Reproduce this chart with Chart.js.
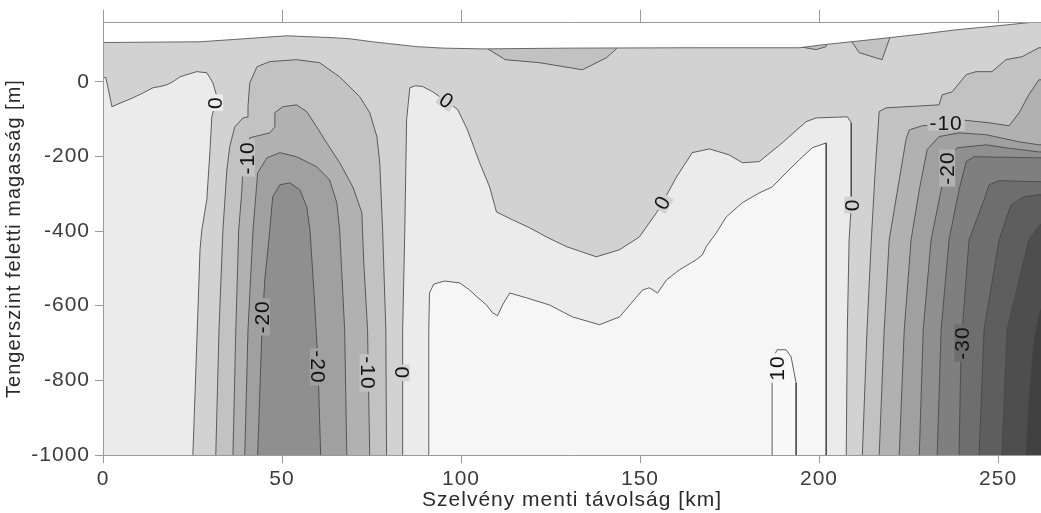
<!DOCTYPE html>
<html>
<head>
<meta charset="utf-8">
<script src="https://cdn.jsdelivr.net/npm/chart.js@4.4.1/dist/chart.umd.min.js"></script>
<style>
  html, body { margin: 0; padding: 0; background: #ffffff; }
  #wrap { position: relative; width: 1041px; height: 513px; }
</style>
</head>
<body>
<div id="wrap"><canvas id="section"></canvas></div>
<script>
// Axis ranges and ticks
const X_MIN = 0, X_MAX = 262;
const Y_MIN = -1000, Y_MAX = 160;
const xTicks = [0, 50, 100, 150, 200, 250];
const yTicks = [0, -200, -400, -600, -800, -1000];

// Contour traces, [km, m]
const topography = [[-5, 105], [0, 105], [13, 106], [27, 107], [36.3, 113], [51.3, 123], [64.2, 118], [69, 115],
  [75.3, 107], [80, 102], [87.6, 94], [95, 90], [106, 88], [130, 90], [163.8, 91], [194.5, 91], [201, 99],
  [210, 108], [219.6, 118], [228, 127], [238.3, 139], [250, 150], [261.4, 161], [270, 166]];

const westZero = [[0.8, 11], [2.5, -67], [5.6, -54], [8.4, -43], [11.2, -30], [14, -16], [15.9, -13], [17.9, -8],
  [19.5, 0], [21.5, 13], [23.4, 19], [26.2, 27], [29, 24], [30.7, -3], [31.8, -40], [31.3, -60], [30.4, -94],
  [29.9, -182], [29, -316], [27.6, -397], [27.1, -450], [26.2, -700], [25.1, -1000]];

const westMinus5 = [[31.5, -1000], [32.4, -665], [33.5, -397], [34.6, -236], [35.4, -174], [36.8, -121], [39.1, -97],
  [40.5, -94], [40.5, -67], [41, -3], [43, 40], [46.6, 54], [54.1, 59], [60.5, 51], [66.1, 13], [71.7, -40],
  [74.5, -83], [76.5, -147], [77.3, -217], [78.1, -397], [79, -665], [79.2, -1000]];
const westMinus10 = [[36.3, -1000], [37.1, -665], [37.9, -397], [38.8, -290], [39.1, -217], [41, -150], [46.6, -137],
  [48, -121], [48, -83], [50.2, -67], [54.1, -62], [56.9, -80], [59.7, -121], [62.5, -164], [66.1, -217],
  [69.8, -282], [72.3, -351], [72.8, -477], [73.9, -665], [74.5, -1000]];
const westMinus15 = [[39.6, -1000], [40.5, -665], [41.9, -397], [43.2, -244], [45.8, -204], [49.4, -190], [54.1, -201],
  [59.7, -228], [63.3, -263], [65.3, -324], [66.1, -397], [67.5, -665], [68.1, -1000]];
const westMinus20 = [[43.2, -1000], [44.4, -665], [45.2, -531], [46.6, -397], [47.4, -308], [49.4, -276], [52.2, -271],
  [55, -290], [56.9, -335], [57.8, -397], [58.9, -558], [60, -745], [60.8, -1000]];

const midZero = [[83.7, -1000], [83.7, -665], [84.3, -397], [84.8, -102], [85.7, -16], [87.3, -11], [89.3, -13],
  [92.1, -27], [94, -40], [96, -51], [99.1, -75], [101.8, -129], [105.2, -217], [108, -282], [109.9, -349],
  [114.4, -370], [119.1, -391], [123.9, -416], [129.5, -442], [137.8, -469], [144.3, -450], [149.8, -416],
  [154.6, -351], [156.3, -324], [160.2, -255], [164.6, -190], [169.4, -180], [174.9, -196], [178.6, -217],
  [183.3, -214], [189.7, -164], [196.4, -107], [199.2, -97], [207.9, -94], [209, -110], [209, -330],
  [208.4, -424], [207.9, -665], [207.6, -1000]];
const midPlus5 = [[91, -1000], [91, -665], [91.2, -566], [92.4, -542], [95.4, -534], [99.6, -539], [102.4, -558],
  [104.4, -576], [107.1, -598], [108.8, -619], [110.2, -627], [111.6, -598], [113.6, -566], [118.3, -579],
  [124.7, -598], [131.1, -630], [138.7, -651], [144.3, -630], [150.7, -558], [152.6, -552], [154.9, -566],
  [157.4, -531], [161, -504], [165.7, -477], [167.4, -464], [168.5, -442], [171.3, -405], [174.1, -362],
  [178.6, -324], [183.3, -298], [186.9, -282], [190.8, -244], [194.5, -209], [198.1, -177], [202, -164],
  [202, -1000]];
const midPlus10 = [[186.9, -1000], [186.9, -745], [188.3, -718], [190.8, -718], [192.2, -737], [193.6, -807],
  [193.6, -1000]];

const eastMinus5 = [[212.1, -1000], [213.4, -665], [214.6, -424], [215.7, -236], [216.8, -80], [218.7, -70],
  [233.5, -62], [234.4, -35], [237.2, -27], [241.1, 19], [243.9, 27], [248.3, 27], [252.2, 59], [256.7, 67],
  [261.4, 91]];
const eastMinus10 = [[216.8, -1000], [218.2, -665], [219.6, -424], [222.4, -263], [224.3, -155], [225.2, -129],
  [228.8, -118], [233, -115], [239.5, -102], [247.5, -110], [253.1, -118], [255.9, -83], [258.6, -35], [261.4, 5]];
const eastMinus15 = [[222.4, -1000], [223.8, -665], [225.7, -424], [228, -290], [230.2, -182], [233.5, -147],
  [239.1, -137], [246.7, -142], [255.9, -161], [261.4, -169]];
const eastMinus20 = [[228, -1000], [229.1, -665], [231.3, -424], [234.1, -290], [236.3, -204], [238.6, -177],
  [246.7, -169], [252.2, -177], [261.4, -188]];
const eastMinus25 = [[233, -1000], [234.1, -665], [236.3, -424], [239.1, -290], [241.1, -214], [243.3, -201],
  [261.4, -204]];
const eastMinus30 = [[239.1, -1000], [239.7, -700], [241.9, -424], [246.1, -316], [247.5, -276], [250.3, -265],
  [261.4, -268]];
const eastMinus35 = [[244.7, -1000], [246.1, -665], [250.3, -424], [253.6, -330], [257.3, -308], [261.4, -303]];
const eastMinus40 = [[251.1, -1000], [252.5, -665], [255.9, -531], [258.6, -424], [261.7, -383]];
const eastMinus45 = [[257.8, -1000], [258.6, -853], [260, -692], [261.7, -611]];

// small -5 pockets under the surface
const pocketA = [[106.5, 130], [107.5, 88], [112.4, 59], [121.9, 51], [133.9, 32], [140.6, 64], [143.4, 88], [144, 130]];
const pocketB = [[194, 130], [194.5, 94], [199.2, 86], [202, 94], [202.5, 130]];
const pocketC = [[209, 130], [209.3, 105], [211.2, 78], [217.6, 59], [219.6, 113], [220, 130]];

// Contour value labels
const labelText = ['0', '-10', '0', '0', '0', '-10', '-20', '-20', '-20', '-10', '0', '10', '-30'];
const labelKm = [31.3, 40.2, 96, 156.3, 209.3, 235.5, 235.8, 44.4, 60, 73.9, 83.4, 188.3, 240];
const labelM = [-56, -204, -51, -324, -330, -110, -231, -630, -764, -780, -780, -767, -700];
const labelAngle = [-90, -90, 35, -60, -90, 0, -90, -90, 90, 90, 90, -90, -90];
const labelBand = ['p1', 'n2', 'n1', 'n1', 'n1', 'n2', 'n3', 'n4', 'n4', 'n2', 'n1', 'p2', 'n7'];

// grey shading per band, lightest for positive values
const bandColors = {
  p3: '#f9f9f9', p2: '#f6f6f6', p1: '#ebebeb',
  n1: '#d2d2d2', n2: '#c2c2c2', n3: '#b1b1b1', n4: '#a0a0a0', n5: '#8f8f8f',
  n6: '#7f7f7f', n7: '#6e6e6e', n8: '#5e5e5e', n9: '#4e4e4e', n10: '#404040'
};
const LINE_COLOR = 'rgba(70, 70, 70, 0.85)';
const FONT = '"Liberation Sans", Arial, Helvetica, sans-serif';

// closing points sit outside the visible area and get clipped
const OUT_LEFT = -5, OUT_RIGHT = 270, OUT_BOTTOM = -1100, OUT_TOP = 300;

function arch(trace) {
  const first = trace[0], last = trace[trace.length - 1];
  return [...trace, [last[0], OUT_BOTTOM], [first[0], OUT_BOTTOM], first];
}
function westSide(trace) {
  const first = trace[0], last = trace[trace.length - 1];
  return [[OUT_LEFT, first[1]], ...trace, [last[0], OUT_BOTTOM], [OUT_LEFT, OUT_BOTTOM], [OUT_LEFT, first[1]]];
}
function eastSide(trace) {
  const first = trace[0], last = trace[trace.length - 1];
  return [[first[0], OUT_BOTTOM], ...trace, [OUT_RIGHT, last[1]], [OUT_RIGHT, OUT_BOTTOM], [first[0], OUT_BOTTOM]];
}
function closed(trace) {
  return [...trace, trace[0]];
}

// painted in this order, bottom layer first
const layers = [
  { pts: [[OUT_LEFT, OUT_TOP], [OUT_RIGHT, OUT_TOP], [OUT_RIGHT, OUT_BOTTOM], [OUT_LEFT, OUT_BOTTOM], [OUT_LEFT, OUT_TOP]], band: 'n1', line: false },
  { pts: westSide(westZero), band: 'p1' },
  { pts: arch(midZero), band: 'p1' },
  { pts: arch(midPlus5), band: 'p2' },
  { pts: arch(midPlus10), band: 'p3' },
  { pts: arch(westMinus5), band: 'n2' },
  { pts: arch(westMinus10), band: 'n3' },
  { pts: arch(westMinus15), band: 'n4' },
  { pts: arch(westMinus20), band: 'n5' },
  { pts: eastSide(eastMinus5), band: 'n2' },
  { pts: eastSide(eastMinus10), band: 'n3' },
  { pts: eastSide(eastMinus15), band: 'n4' },
  { pts: eastSide(eastMinus20), band: 'n5' },
  { pts: eastSide(eastMinus25), band: 'n6' },
  { pts: eastSide(eastMinus30), band: 'n7' },
  { pts: eastSide(eastMinus35), band: 'n8' },
  { pts: eastSide(eastMinus40), band: 'n9' },
  { pts: eastSide(eastMinus45), band: 'n10' },
  { pts: closed(pocketA), band: 'n2' },
  { pts: closed(pocketB), band: 'n2' },
  { pts: closed(pocketC), band: 'n2' },
  // everything above the surface is blank
  { pts: [...topography, [OUT_RIGHT, OUT_TOP], [OUT_LEFT, OUT_TOP], topography[0]], color: '#ffffff', lineColor: 'rgba(90, 90, 90, 0.9)' }
];

const datasets = layers.map((l, i) => ({
  data: l.pts.map(p => ({ x: p[0], y: p[1] })),
  showLine: true,
  fill: 'shape',
  backgroundColor: l.color || bandColors[l.band],
  borderColor: l.line === false ? 'rgba(0,0,0,0)' : (l.lineColor || LINE_COLOR),
  borderWidth: l.line === false ? 0 : 1,
  pointRadius: 0,
  pointHoverRadius: 0,
  tension: 0,
  order: layers.length - i
}));

const contourLabels = {
  id: 'contourLabels',
  afterDatasetsDraw(chart) {
    const { ctx, scales: { x, y } } = chart;
    ctx.save();
    ctx.font = '21px ' + FONT;
    ctx.textAlign = 'center';
    ctx.textBaseline = 'middle';
    labelText.forEach((t, i) => {
      const px = x.getPixelForValue(labelKm[i]);
      const py = y.getPixelForValue(labelM[i]);
      ctx.save();
      ctx.translate(px, py);
      ctx.rotate(labelAngle[i] * Math.PI / 180);
      const w = ctx.measureText(t).width;
      ctx.fillStyle = bandColors[labelBand[i]];
      ctx.fillRect(-w / 2 - 2, -8, w + 4, 16);
      ctx.fillStyle = '#141414';
      ctx.fillText(t, 0, 1);
      ctx.restore();
    });
    ctx.restore();
  }
};

const spacedText = {
  id: 'spacedText',
  beforeDraw(chart) { chart.ctx.letterSpacing = '1px'; },
  afterDraw(chart) { chart.ctx.letterSpacing = '0px'; }
};

const axisGrey = '#9a9a9a';
const tickFont = { size: 21, family: FONT };

new Chart(document.getElementById('section'), {
  type: 'scatter',
  data: { datasets },
  options: {
    responsive: true,
    maintainAspectRatio: false,
    animation: false,
    events: [],
    layout: { padding: 0 },
    plugins: { legend: { display: false }, tooltip: { enabled: false } },
    scales: {
      x: {
        type: 'linear', position: 'bottom', min: X_MIN, max: X_MAX,
        afterBuildTicks: s => { s.ticks = xTicks.map(v => ({ value: v })); },
        afterFit: s => { s.height = 58; },
        grid: { drawOnChartArea: false, tickLength: 8, color: axisGrey, z: 1 },
        border: { color: axisGrey, z: 1 },
        ticks: { font: tickFont, color: '#3c3c3c', padding: 4, maxRotation: 0, z: 1, callback: v => String(v) },
        title: { display: true, text: 'Szelvény menti távolság [km]', font: { size: 21, family: FONT }, color: '#2a2a2a', padding: { top: 0, bottom: 0 } }
      },
      x2: {
        type: 'linear', position: 'top', min: X_MIN, max: X_MAX,
        afterBuildTicks: s => { s.ticks = xTicks.map(v => ({ value: v })); },
        afterFit: s => { s.height = 22; },
        grid: { drawOnChartArea: false, tickLength: 12, color: axisGrey, z: 1 },
        border: { color: axisGrey, z: 1 },
        ticks: { display: false }
      },
      y: {
        type: 'linear', position: 'left', min: Y_MIN, max: Y_MAX,
        afterBuildTicks: s => { s.ticks = yTicks.map(v => ({ value: v })); },
        afterFit: s => { s.width = 103; },
        grid: { drawOnChartArea: false, tickLength: 8, color: axisGrey, z: 1 },
        border: { color: axisGrey, z: 1 },
        ticks: { font: tickFont, color: '#3c3c3c', padding: 5, z: 1, callback: v => String(v) },
        title: { display: true, text: 'Tengerszint feletti magasság [m]', font: { size: 20, family: FONT }, color: '#2a2a2a', padding: { top: 2, bottom: 0 } }
      }
    }
  },
  plugins: [contourLabels, spacedText]
});
</script>
</body>
</html>
